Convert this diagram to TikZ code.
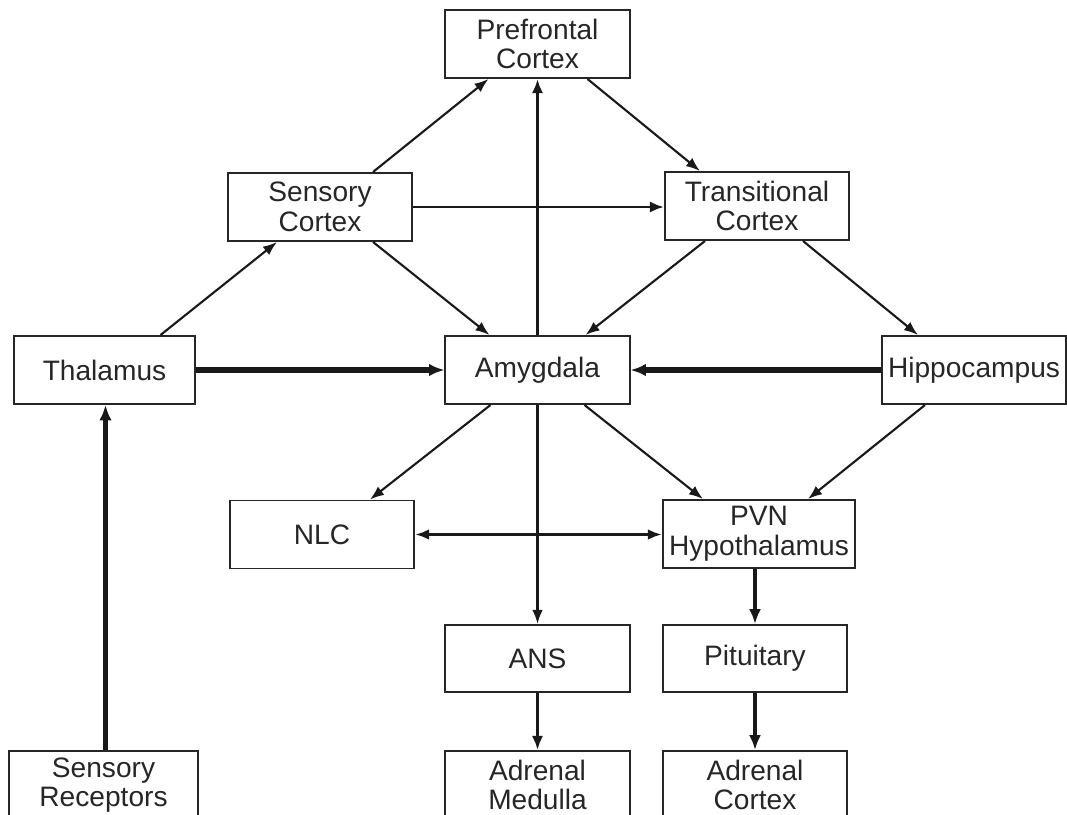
\documentclass[tikz,border=0pt]{standalone}
\usepackage{fontspec}
\setmainfont{Liberation Sans}
\usetikzlibrary{arrows.meta,calc}
\begin{document}
\begin{tikzpicture}[x=0.025cm,y=-0.025cm,
  box/.style={draw=black!85,line width=1.4pt,minimum width=4.6cm,minimum height=1.7cm,
    inner sep=0pt,align=center,font=\fontsize{20}{21}\selectfont,text=black!85},
  thinarr/.style={-{Latex[length=10pt,width=7.5pt]},line width=1.5pt,draw=black!90},
  midarr/.style={-{Latex[length=10pt,width=8pt]},line width=2.1pt,draw=black!90},
  bigarr/.style={-{Latex[length=10.5pt,width=8.5pt]},line width=2.8pt,draw=black!90},
  hugearr/.style={-{Latex[length=11pt,width=9pt]},line width=3.6pt,draw=black!90},
  dblarr/.style={{Latex[length=10pt,width=7.5pt]}-{Latex[length=10pt,width=7.5pt]},line width=1.9pt,draw=black!90}]
\clip (0,0) rectangle (1067,815);
% nodes
\node[box] (pfc) at (537.5,44) {Prefrontal\\Cortex};
\node[box] (sc) at (320,207) {Sensory\\Cortex};
\node[box] (tc) at (757,206) {Transitional\\Cortex};
\node[box,minimum width=4.525cm] (th) at (104.5,370) {Thalamus};
\node[box] (am) at (537.5,370) {Amygdala};
\node[box] (hc) at (974,370) {Hippocampus};
\node[box] (nlc) at (322,534.5) {NLC};
\node[box,minimum width=4.8cm] (pvn) at (759,534) {PVN\\Hypothalamus};
\node[box,minimum height=1.675cm] (ans) at (537.5,658.5) {ANS};
\node[box,minimum height=1.675cm] (pit) at (755,658.5) {Pituitary};
\node[box,minimum width=4.725cm] (sr) at (103.5,785) {Sensory\\Receptors};
\node[box] (adm) at (537.5,785) {Adrenal\\Medulla};
\node[box] (adc) at (755,785) {Adrenal\\Cortex};
% connectors
\draw[thinarr] ($(sc.north)+(53,0)$) -- ($(pfc.south)+(-49,0)$);
\draw[thinarr] ($(pfc.south)+(50,0)$) -- ($(tc.north)+(-57,0)$);
\draw[midarr] (am.north) -- (pfc.south);
\draw[midarr] (sc.east) -- (sc.east -| tc.west);
\draw[thinarr] ($(sc.south)+(53,0)$) -- ($(am.north)+(-48,0)$);
\draw[thinarr] ($(tc.south)+(-52,0)$) -- ($(am.north)+(48,0)$);
\draw[thinarr] ($(tc.south)+(46,0)$) -- ($(hc.north)+(-56,0)$);
\draw[thinarr] ($(th.north)+(56,0)$) -- ($(sc.south)+(-43,0)$);
\draw[hugearr] (th.east) -- (am.west);
\draw[hugearr] (hc.west) -- (am.east);
\draw[hugearr] ($(sr.north)+(2,0)$) -- ($(th.south)+(1,0)$);
\draw[thinarr] ($(am.south)+(-47,0)$) -- ($(nlc.north)+(48,0)$);
\draw[thinarr] ($(am.south)+(47,0)$) -- ($(pvn.north)+(-56,0)$);
\draw[thinarr] ($(hc.south)+(-49,0)$) -- ($(pvn.north)+(49,0)$);
\draw[thinarr] (am.south) -- (ans.north);
\draw[dblarr] (nlc.east) -- (nlc.east -| pvn.west);
\draw[bigarr] (pvn.south -| pit.north) -- (pit.north);
\draw[midarr] (ans.south) -- (adm.north);
\draw[bigarr] (pit.south) -- (adc.north);
\end{tikzpicture}
\end{document}
